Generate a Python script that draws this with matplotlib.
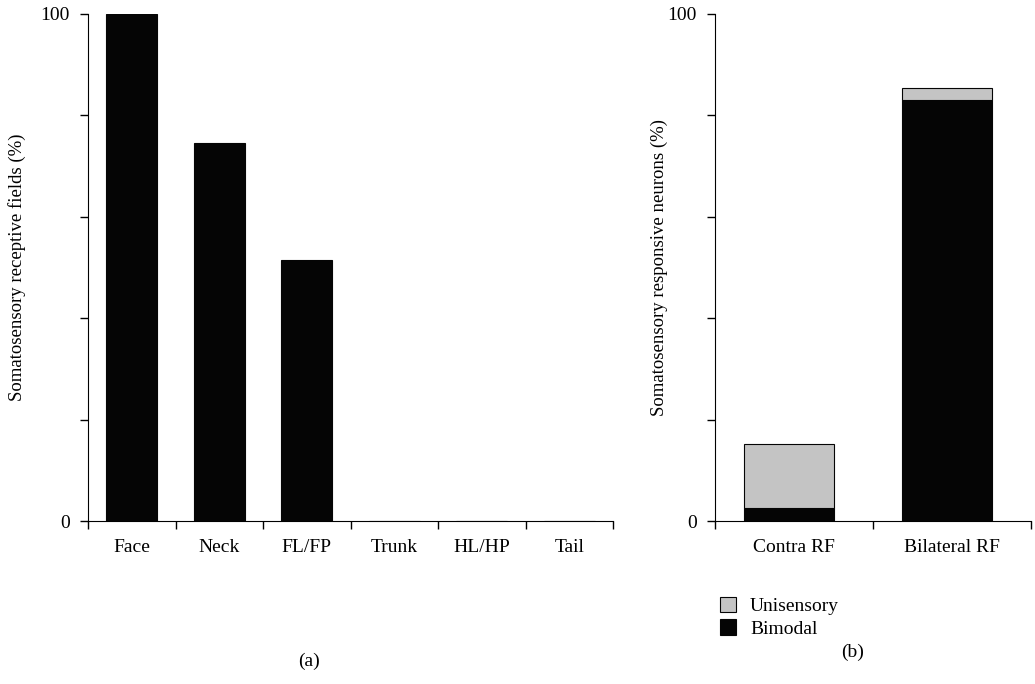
import numpy as np
import matplotlib.pyplot as plt

plt.rcParams['font.family'] = ['Liberation Serif', 'DejaVu Serif']

# panel (a)
regions = ['Face', 'Neck', 'FL/FP', 'Trunk', 'HL/HP', 'Tail']
rf_pct = [100, 74.5, 51.5, 0, 0, 0]

# panel (b)
rf_types = ['Contra RF', 'Bilateral RF']
bimodal = [2.6, 83.0]
unisensory = [12.6, 2.4]

W, H = 1035, 684
fig = plt.figure(figsize=(W / 100, H / 100), dpi=100)

def style(ax, n):
    for s in ['top', 'right']:
        ax.spines[s].set_visible(False)
    ax.spines['left'].set_bounds(0, 100)
    ax.set_ylim(0, 100)
    ax.set_xlim(-0.5, n - 0.5)
    ax.set_yticks([0, 20, 40, 60, 80, 100])
    ax.set_yticklabels(['0', '', '', '', '', '100'])
    ax.set_xticks(np.arange(n + 1) - 0.5, minor=False)
    ax.set_xticklabels([''] * (n + 1))
    ax.set_xticks(np.arange(n), minor=True)
    ax.tick_params(axis='x', which='minor', length=0, pad=13, labelsize=14)
    ax.tick_params(axis='both', which='major', direction='out', length=6,
                   width=1, labelsize=14)
    ax.tick_params(axis='y', pad=7)

ax1 = fig.add_axes([88 / W, (H - 521) / H, (613 - 88) / W, 507 / H])
x1 = np.arange(len(regions))
ax1.bar(x1, rf_pct, width=0.58, color='#050505', edgecolor='#050505', linewidth=0.8)
style(ax1, len(regions))
ax1.set_xticks(x1, minor=True)
ax1.set_xticklabels(regions, minor=True)
ax1.set_ylabel('Somatosensory receptive fields (%)', fontsize=13.5)
ax1.yaxis.set_label_coords(-0.118, 0.5)

ax2 = fig.add_axes([715 / W, (H - 521) / H, (1031 - 715) / W, 507 / H])
x2 = np.arange(len(rf_types))
b1 = ax2.bar(x2 - 0.03, bimodal, width=0.57, color='#050505', edgecolor='#050505',
             linewidth=0.8, label='Bimodal')
b2 = ax2.bar(x2 - 0.03, unisensory, bottom=bimodal, width=0.57, color='#c4c4c4',
             edgecolor='#050505', linewidth=0.8, label='Unisensory')
style(ax2, len(rf_types))
ax2.set_xticklabels(rf_types, minor=True)
ax2.set_ylabel('Somatosensory responsive neurons (%)', fontsize=13.5)
ax2.yaxis.set_label_coords(-0.148, 0.5)

fig.legend([b2, b1], ['Unisensory', 'Bimodal'], loc='upper left',
           bbox_to_anchor=(712 / W, 1 - 589 / H), frameon=False, fontsize=14,
           handlelength=0.85, handleheight=0.85, handletextpad=0.7,
           labelspacing=0.2, borderaxespad=0)

fig.text(309 / W, 1 - 661 / H, '(a)', ha='center', va='center', fontsize=14)
fig.text(853 / W, 1 - 652 / H, '(b)', ha='center', va='center', fontsize=14)

fig.savefig('out.png', dpi=100)
